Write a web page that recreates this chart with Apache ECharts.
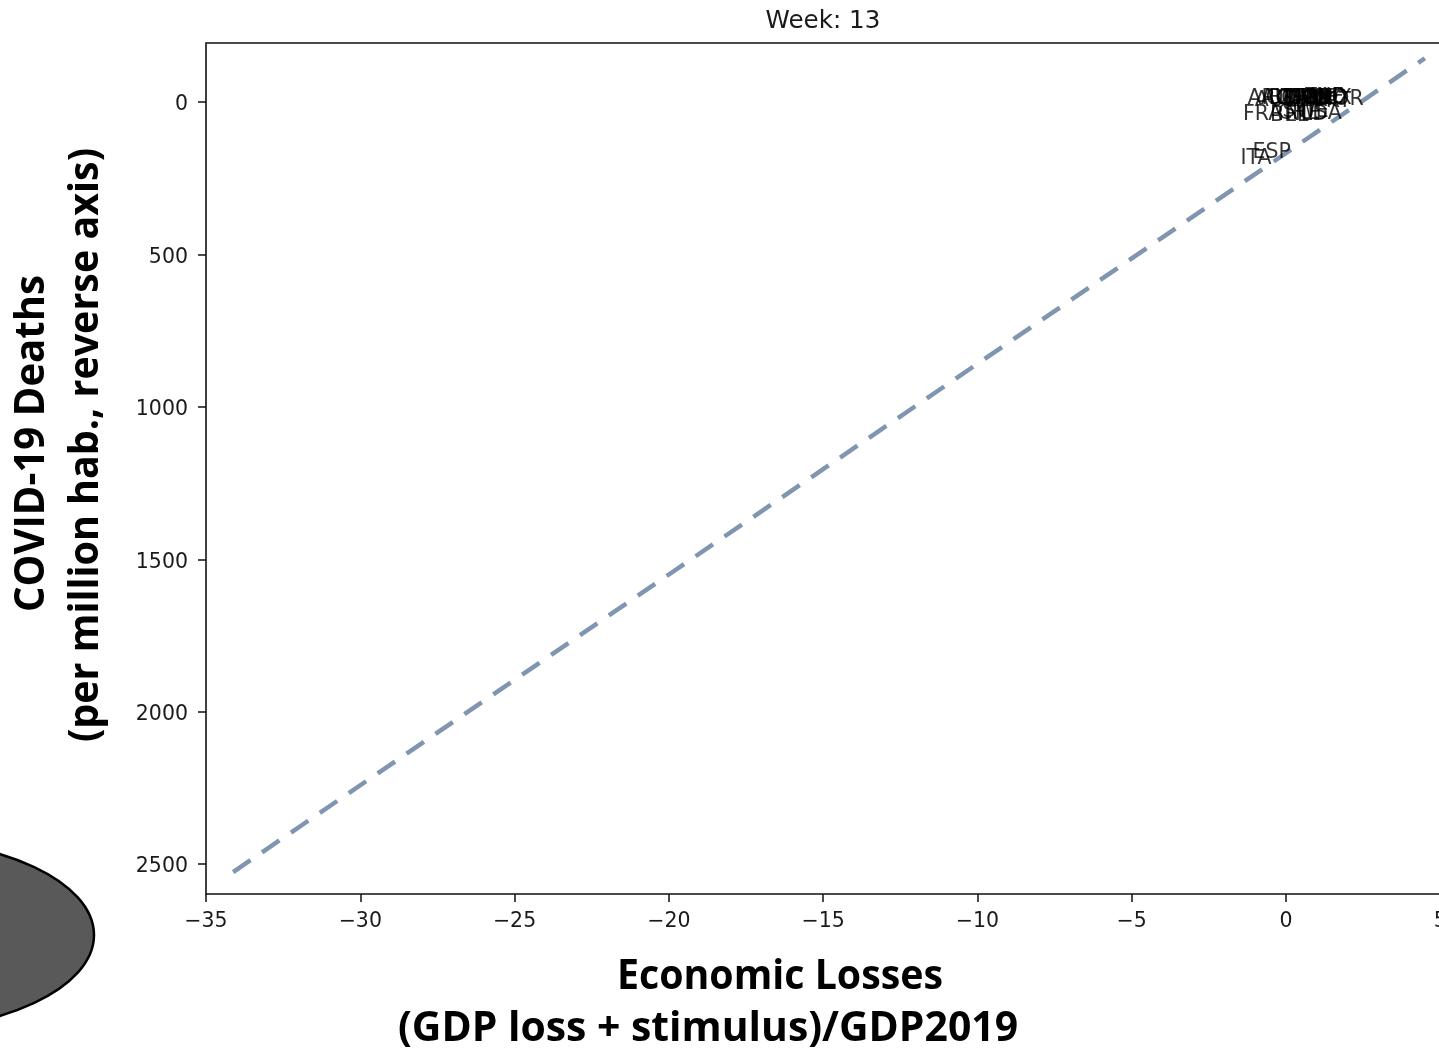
<!DOCTYPE html>
<html>
<head>
<meta charset="utf-8">
<script src="https://cdn.jsdelivr.net/npm/echarts@6/dist/echarts.min.js"></script>
<style>
  html, body { margin: 0; padding: 0; background: #fff; overflow: hidden; }
  #chart { width: 1500px; height: 1053px; }
</style>
</head>
<body>
<div id="chart"></div>
<script>
// Country positions: x = economic losses (% of GDP 2019), y = COVID-19 deaths per million
const countryCodes = ['ARG', 'AUT', 'CZE', 'AUS', 'BRA', 'CAN', 'CHL', 'DEU', 'COL', 'POL', 'DNK',
                      'FIN', 'JPN', 'GRC', 'ZAF', 'MEX', 'IND', 'PRT', 'NOR',
                      'FRA', 'BEL', 'CHE', 'SWE', 'NLD', 'USA', 'ESP', 'ITA'];
const economicLosses = [-1.23, -1.0, -0.65, -0.8, -0.55, -0.3, -0.15, -0.05, 0.05, 0.1, 0.2,
                        0.35, 0.45, 0.55, 0.6, 0.7, 0.8, 0.9, 1.05,
                        -1.38, -0.5, -0.25, -0.1, 0.0, 0.45, -1.07, -1.46];
const deathsPerMillion = [3, 8, 2, 1, 2, 5, 2, 7, 1, 1, 9,
                          2, 1, 3, 0, 1, 0, 10, 5,
                          55, 57, 52, 45, 55, 52, 180, 200];

// Dashed reference line endpoints
const refLineX = [-34.12, 4.5];
const refLineY = [2526, -144];

// Axis tick values
const xTicks = [-35, -30, -25, -20, -15, -10, -5, 0, 5];
const yTicks = [0, 500, 1000, 1500, 2000, 2500];

const weekLabel = 'Week: 13';
const xTitleLines = ['Economic Losses', '(GDP loss + stimulus)/GDP2019'];
const yTitleLines = ['COVID-19 Deaths', '(per million hab., reverse axis)'];

const chart = echarts.init(document.getElementById('chart'), null, { renderer: 'canvas' });

const tickFont = { fontFamily: 'DejaVu Sans', fontSize: 20.5, color: '#1a1a1a' };
const titleFamily = '"Open Sans"';

// horizontal squeeze so the bold titles take their intended run length
const measureCtx = document.createElement('canvas').getContext('2d');
function fitScale(text, size, target) {
  measureCtx.font = 'bold ' + size + 'px ' + titleFamily;
  return target / measureCtx.measureText(text).width;
}

function titleText(text, x, y, rot, target) {
  return {
    type: 'text', x: x, y: y, rotation: rot,
    scaleX: fitScale(text, 42, target),
    style: {
      text: text, fontFamily: titleFamily, fontWeight: 'bold', fontSize: 42,
      fill: '#000', align: 'center', verticalAlign: 'middle',
      textAlign: 'center', textVerticalAlign: 'middle'
    }
  };
}

const scatterData = countryCodes.map((c, i) => [economicLosses[i], deathsPerMillion[i], c]);

chart.setOption({
  animation: false,
  backgroundColor: '#fff',
  grid: {
    left: 206, top: 43, right: 59.7, bottom: 159,
    show: true, borderColor: '#111', borderWidth: 1.6, backgroundColor: '#fff'
  },
  xAxis: {
    type: 'value', min: -35, max: 5, interval: 5,
    axisLine: { show: false, onZero: false },
    splitLine: { show: false },
    axisTick: { show: true, inside: false, length: 8, lineStyle: { color: '#111', width: 1.5 } },
    axisLabel: {
      ...tickFont, margin: 17,
      formatter: v => (xTicks.includes(v) ? (v < 0 ? '\u2212' + Math.abs(v) : String(v)) : '')
    }
  },
  yAxis: {
    type: 'value', inverse: true, min: -194, max: 2598,
    axisLine: { show: false, onZero: false },
    splitLine: { show: false },
    axisTick: { show: true, inside: false, length: 8, customValues: yTicks,
                lineStyle: { color: '#111', width: 1.5 } },
    axisLabel: {
      ...tickFont, margin: 18, customValues: yTicks,
      formatter: v => '{t|' + v + '}',
      rich: { t: { ...tickFont, padding: [6, 0, 0, 0] } }
    }
  },
  series: [
    {
      type: 'line',
      data: refLineX.map((x, i) => [x, refLineY[i]]),
      symbol: 'none',
      silent: true,
      lineStyle: { color: '#8095b0', width: 4.5, type: [21, 14], cap: 'butt' },
      z: 2
    },
    {
      type: 'scatter',
      data: scatterData,
      symbolSize: 1,
      itemStyle: { color: 'transparent' },
      silent: true,
      label: {
        show: true,
        formatter: p => p.data[2],
        position: [0, 0],
        offset: [0, 7],
        align: 'left',
        verticalAlign: 'bottom',
        fontFamily: 'DejaVu Sans',
        fontSize: 20.5,
        color: '#000'
      },
      z: 3
    }
  ],
  graphic: [
    {
      type: 'ellipse',
      shape: { cx: -110, cy: 935, rx: 204, ry: 96 },
      style: { fill: '#595959', stroke: '#000', lineWidth: 2.5 },
      z: 10
    },
    {
      type: 'text', x: 823, y: 21.5,
      style: {
        text: weekLabel, fontFamily: 'DejaVu Sans', fontSize: 24.6, fill: '#1a1a1a',
        align: 'center', verticalAlign: 'middle', textAlign: 'center', textVerticalAlign: 'middle'
      }
    },
    titleText(xTitleLines[0], 780, 977, 0, 326),
    titleText(xTitleLines[1], 708, 1029, 0, 620),
    titleText(yTitleLines[0], 32.5, 443.5, Math.PI / 2, 337),
    titleText(yTitleLines[1], 86, 445, Math.PI / 2, 594)
  ]
});
</script>
</body>
</html>
